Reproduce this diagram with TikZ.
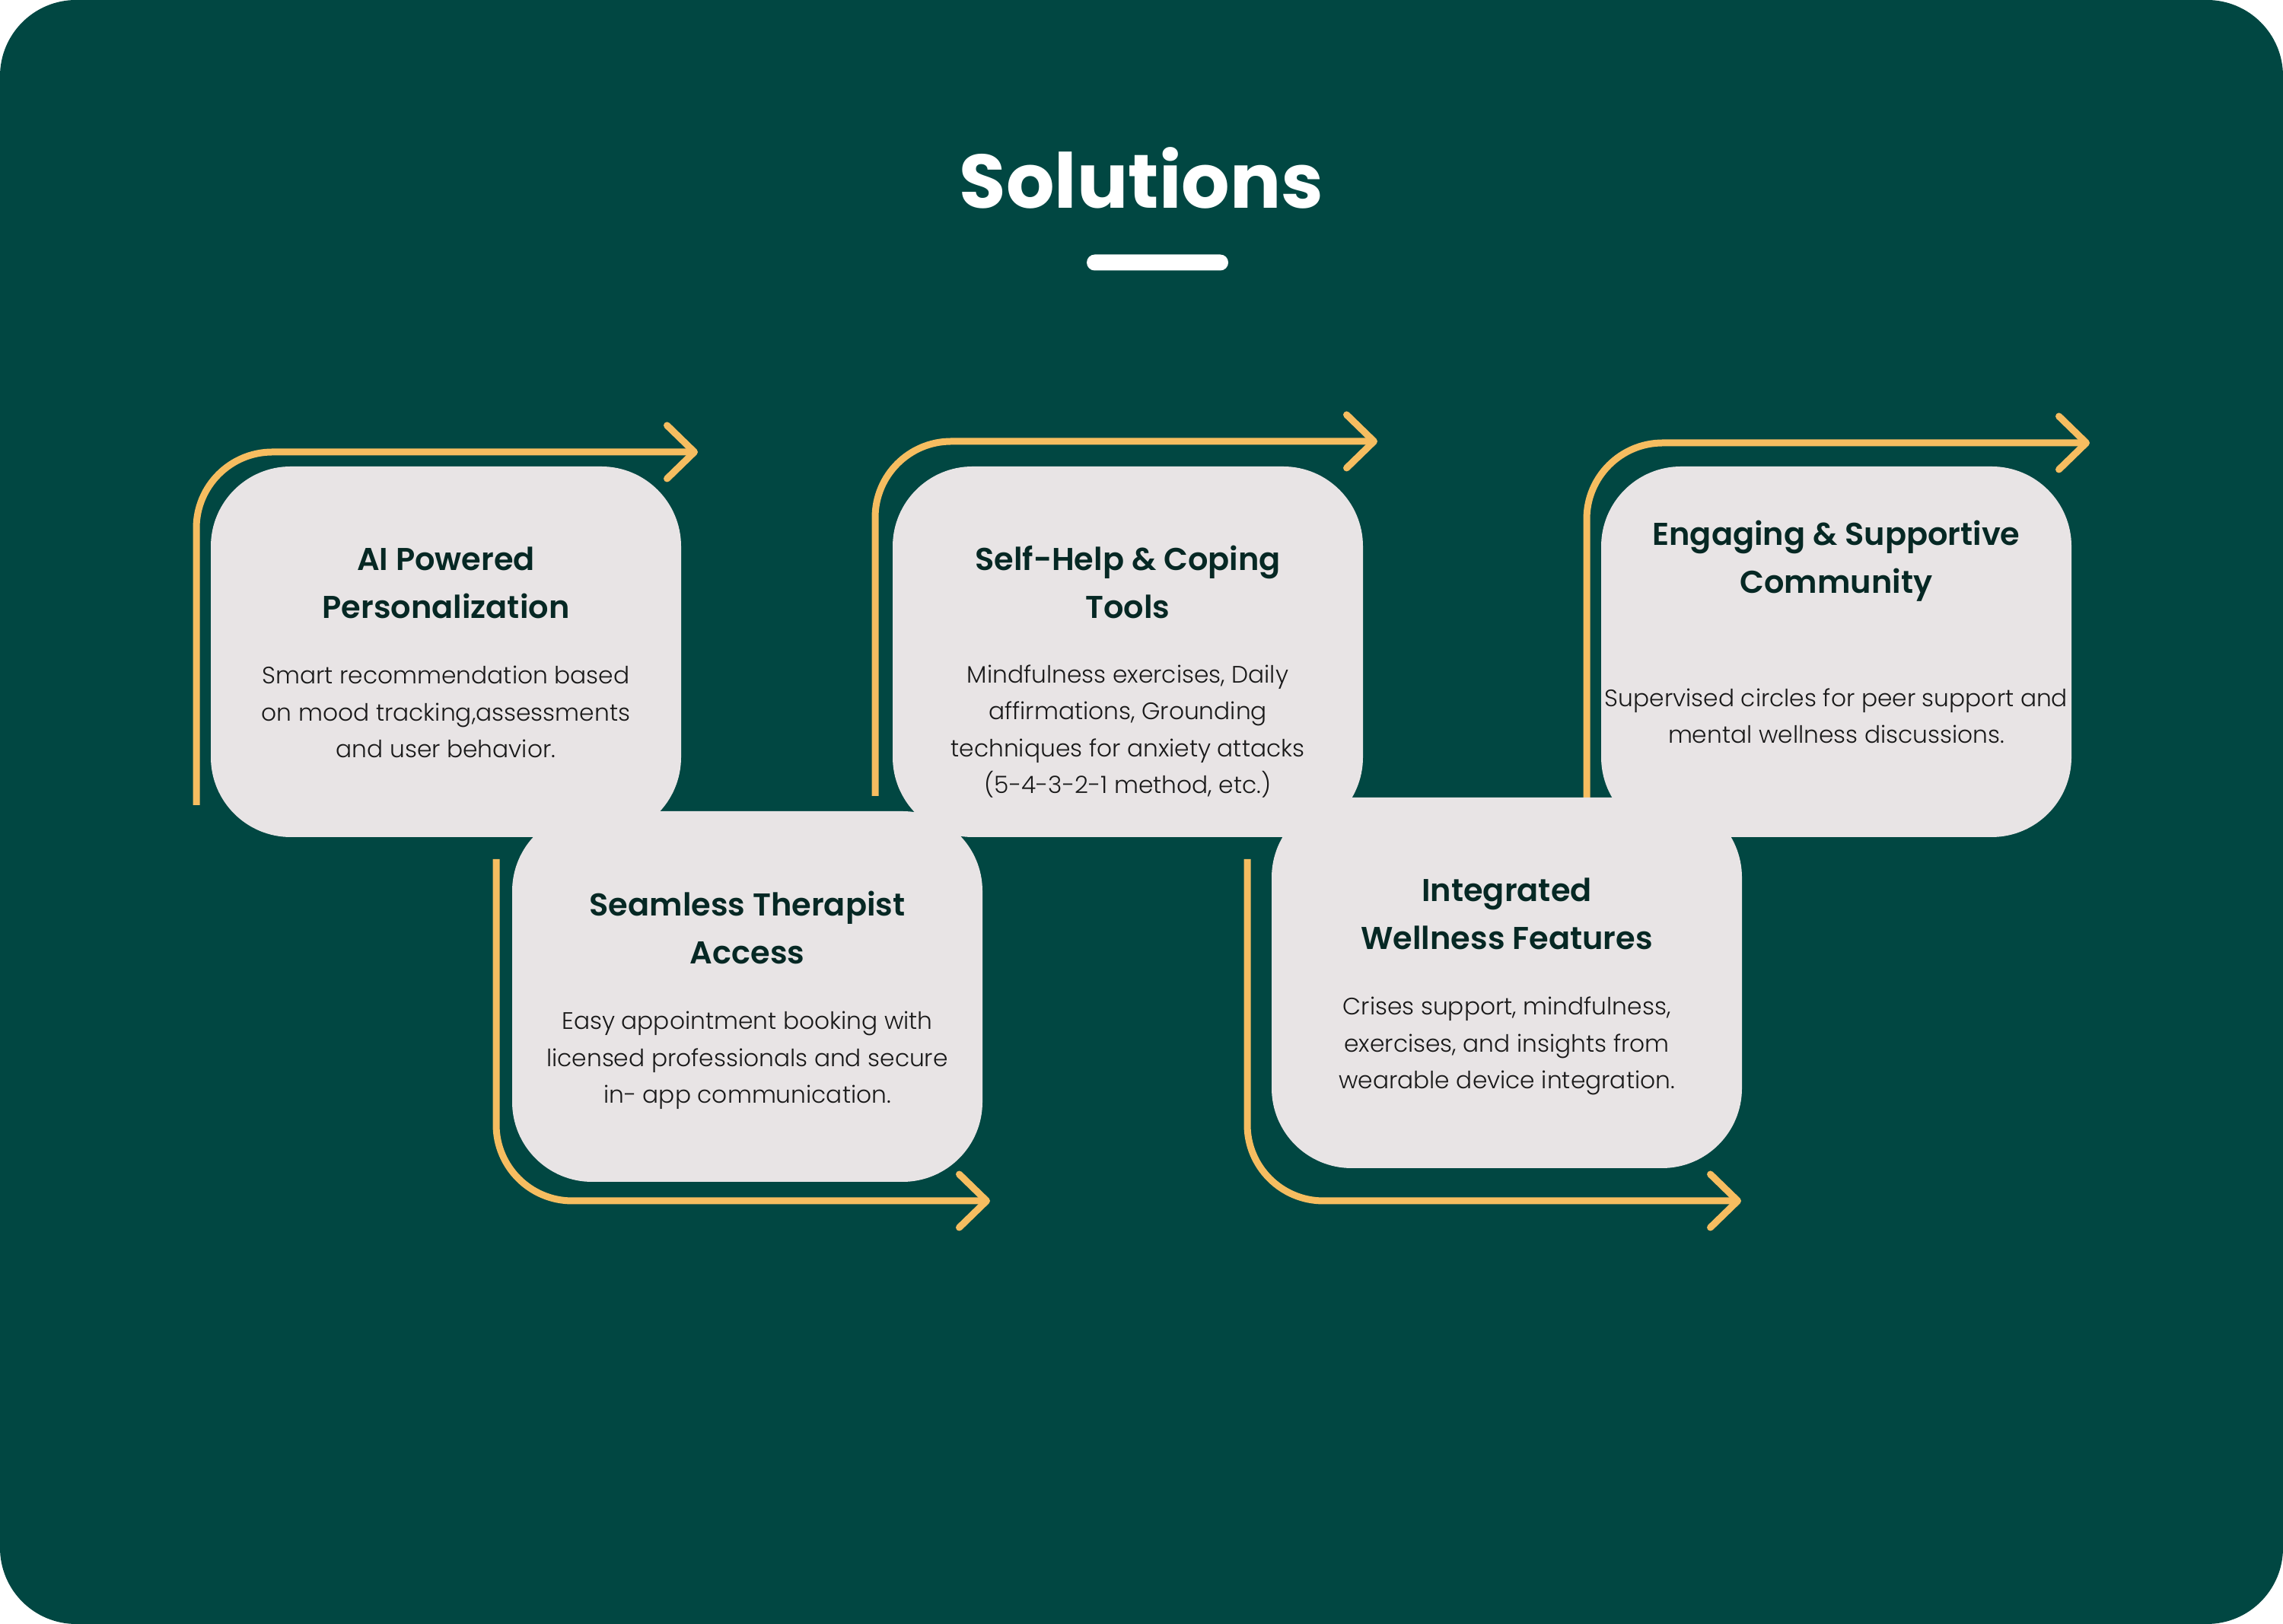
\documentclass[tikz,border=0pt]{standalone}
\usepackage{fontspec}
\setmainfont{Poppins}
\newfontfamily\popsemi{Poppins SemiBold}
\newfontfamily\poplight{Poppins Light}
\usetikzlibrary{arrows.meta,positioning}
\definecolor{bgteal}{RGB}{1,71,66}
\definecolor{cardgray}{RGB}{232,228,229}
\definecolor{flowgold}{RGB}{246,189,96}
\definecolor{headink}{RGB}{6,40,36}
\definecolor{bodyink}{RGB}{25,25,25}
\begin{document}
\begin{tikzpicture}[
	card/.style={fill=cardgray, rounded corners=1.05cm, minimum width=6.18cm, minimum height=4.87cm, inner sep=0pt},
	head/.style={anchor=base, align=center, text=headink, font=\popsemi\fontsize{11.8}{17.9}\selectfont},
	body/.style={anchor=base, align=center, text=bodyink, font=\poplight\fontsize{8.9}{13.7}\selectfont},
	flow/.style={draw=flowgold, line width=0.09cm, rounded corners=1cm, -{Straight Barb[length=0.36cm,width=0.7cm,round]}}
	]
	\useasboundingbox (0,0) rectangle (30,21.34);
	\fill[bgteal, rounded corners=1cm] (0,0) rectangle (30,21.34);
	
	% title
	\node	(title) at (15,18.60) [anchor=base, text=white, font=\bfseries\fontsize{28.4}{34}\selectfont] {Solutions};
	\node	(bar) at (15.21,17.89) [fill=white, rounded corners=0.105cm, minimum width=1.86cm, minimum height=0.21cm, inner sep=0pt] {};
	
	% arrow ends
	\coordinate (s1) at (2.58,10.76);
	\coordinate (e1) at (9.17,15.40);
	\coordinate (s2) at (6.52,10.05);
	\coordinate (e2) at (13.01,5.56);
	\coordinate (s3) at (11.50,10.88);
	\coordinate (e3) at (18.10,15.54);
	\coordinate (s4) at (16.39,10.05);
	\coordinate (e4) at (22.88,5.56);
	\coordinate (s5) at (20.85,10.86);
	\coordinate (e5) at (27.46,15.52);
	
	\draw[flow] (s1) |- (e1);
	\draw[flow] (s2) |- (e2);
	\draw[flow] (s3) |- (e3);
	\draw[flow] (s4) |- (e4);
	\draw[flow] (s5) |- (e5);
	
	% cards
	\node	(ai) at (5.86,12.775) [card] {};
	\node	(therapist) at (9.82,8.245) [card] {};
	\node	(selfhelp) at (14.82,12.775) [card] {};
	\node	(wellness) at (19.80,8.425) [card] {};
	\node	(community) at (24.13,12.775) [card] {};
	
	% base of each text = its last line
	\node	(aih) at ([yshift=-2.00cm]ai.north) [head] {AI Powered\\Personalization};
	\node	(aib) at ([yshift=-3.83cm]ai.north) [body] {Smart recommendation based\\on mood tracking,assessments\\and user behavior.};
	
	\node	(therapisth) at ([yshift=-2.01cm]therapist.north) [head] {Seamless Therapist\\Access};
	\node	(therapistb) at ([yshift=-3.84cm]therapist.north) [body] {Easy appointment booking with\\licensed professionals and secure\\in- app communication.};
	
	\node	(selfhelph) at ([yshift=-2.00cm]selfhelp.north) [head] {Self-Help \& Coping\\Tools};
	\node	(selfhelpb) at ([yshift=-4.30cm]selfhelp.north) [body] {Mindfulness exercises, Daily\\affirmations, Grounding\\techniques for anxiety attacks\\(5-4-3-2-1 method, etc.)};
	
	\node	(wellnessh) at ([yshift=-2.00cm]wellness.north) [head] {Integrated\\Wellness Features};
	\node	(wellnessb) at ([yshift=-3.83cm]wellness.north) [body] {Crises support, mindfulness,\\exercises, and insights from\\wearable device integration.};
	
	\node	(communityh) at ([yshift=-1.67cm]community.north) [head] {Engaging \& Supportive\\Community};
	\node	(communityb) at ([yshift=-3.64cm]community.north) [body] {Supervised circles for peer support and\\mental wellness discussions.};
\end{tikzpicture}
\end{document}
